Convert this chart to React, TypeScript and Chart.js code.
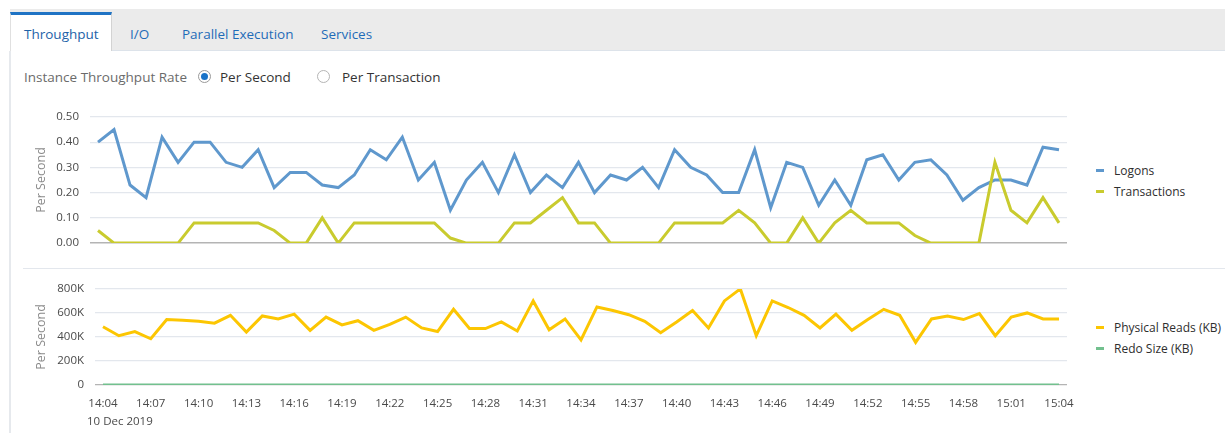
import React, { useEffect, useRef } from 'react';
import { Chart, registerables } from 'chart.js';

Chart.register(...registerables);

const FONT = '"Open Sans", "Noto Sans", sans-serif';

const times = [
  '14:04', '14:05', '14:06', '14:07', '14:08', '14:09', '14:10', '14:11', '14:12', '14:13',
  '14:14', '14:15', '14:16', '14:17', '14:18', '14:19', '14:20', '14:21', '14:22', '14:23',
  '14:24', '14:25', '14:26', '14:27', '14:28', '14:29', '14:30', '14:31', '14:32', '14:33',
  '14:34', '14:35', '14:36', '14:37', '14:38', '14:39', '14:40', '14:41', '14:42', '14:43',
  '14:44', '14:45', '14:46', '14:47', '14:48', '14:49', '14:50', '14:51', '14:52', '14:53',
  '14:54', '14:55', '14:56', '14:57', '14:58', '14:59', '15:00', '15:01', '15:02', '15:03',
  '15:04',
];

const logons = [
  0.40, 0.45, 0.23, 0.18, 0.42, 0.32, 0.40, 0.40, 0.32, 0.30,
  0.37, 0.22, 0.28, 0.28, 0.23, 0.22, 0.27, 0.37, 0.33, 0.42,
  0.25, 0.32, 0.13, 0.25, 0.32, 0.20, 0.35, 0.20, 0.27, 0.22,
  0.32, 0.20, 0.27, 0.25, 0.30, 0.22, 0.37, 0.30, 0.27, 0.20,
  0.20, 0.37, 0.14, 0.32, 0.30, 0.15, 0.25, 0.15, 0.33, 0.35,
  0.25, 0.32, 0.33, 0.27, 0.17, 0.22, 0.25, 0.25, 0.23, 0.38,
  0.37,
];

const transactions = [
  0.05, 0, 0, 0, 0, 0, 0.08, 0.08, 0.08, 0.08,
  0.08, 0.05, 0, 0, 0.10, 0, 0.08, 0.08, 0.08, 0.08,
  0.08, 0.08, 0.02, 0, 0, 0, 0.08, 0.08, 0.13, 0.18,
  0.08, 0.08, 0, 0, 0, 0, 0.08, 0.08, 0.08, 0.08,
  0.13, 0.08, 0, 0, 0.10, 0, 0.08, 0.13, 0.08, 0.08,
  0.08, 0.03, 0, 0, 0, 0, 0.32, 0.13, 0.08, 0.18,
  0.08,
];

const physicalReadsKB = [
  485000, 410000, 445000, 385000, 545000, 540000, 530000, 515000, 580000, 440000,
  575000, 550000, 590000, 455000, 565000, 500000, 535000, 455000, 505000, 565000,
  475000, 445000, 630000, 470000, 470000, 525000, 450000, 700000, 460000, 550000,
  375000, 650000, 620000, 585000, 530000, 435000, 525000, 620000, 475000, 700000,
  800000, 410000, 700000, 645000, 580000, 475000, 590000, 455000, 545000, 630000,
  580000, 355000, 550000, 575000, 545000, 595000, 410000, 565000, 600000, 550000,
  550000,
];

const redoSizeKB = [
  0, 0, 0, 0, 0, 0, 0, 0, 0, 0,
  0, 0, 0, 0, 0, 0, 0, 0, 0, 0,
  0, 0, 0, 0, 0, 0, 0, 0, 0, 0,
  0, 0, 0, 0, 0, 0, 0, 0, 0, 0,
  0, 0, 0, 0, 0, 0, 0, 0, 0, 0,
  0, 0, 0, 0, 0, 0, 0, 0, 0, 0,
  0,
];

const tabs = ['Throughput', 'I/O', 'Parallel Execution', 'Services'];
const topLegend = [
  { label: 'Logons', color: '#5f98cd' },
  { label: 'Transactions', color: '#c9cb2e' },
];
const bottomLegend = [
  { label: 'Physical Reads (KB)', color: '#fcc602' },
  { label: 'Redo Size (KB)', color: '#72c08e' },
];
const dateLabel = '10 Dec 2019';
const yTitle = 'Per Second';

const GRID_MAJOR = '#e3e7ed';
const GRID_MINOR = '#efefef';
const GRID_ZERO = '#b4b4b4';
const TICK_COLOR = '#4a4a4a';
const TITLE_COLOR = '#8a8a8a';

function TopChart() {
  const ref = useRef<HTMLCanvasElement>(null);
  useEffect(() => {
    const chart = new Chart(ref.current!, {
      type: 'line',
      data: {
        labels: times,
        datasets: [
          {
            label: topLegend[0].label,
            data: logons,
            borderColor: topLegend[0].color,
            backgroundColor: topLegend[0].color,
            borderWidth: 3,
            pointRadius: 0,
            tension: 0,
            order: 1,
          },
          {
            label: topLegend[1].label,
            data: transactions,
            borderColor: topLegend[1].color,
            backgroundColor: topLegend[1].color,
            borderWidth: 3,
            pointRadius: 0,
            tension: 0,
            order: 0,
          },
        ],
      },
      options: {
        responsive: false,
        animation: false,
        layout: { padding: { left: 30, right: 23, top: 10, bottom: 8 } },
        plugins: { legend: { display: false }, tooltip: { enabled: false } },
        scales: {
          x: { display: false, offset: true },
          y: {
            min: 0,
            max: 0.5,
            border: { display: false },
            afterFit: (s: any) => { s.width = 60; },
            grid: {
              drawTicks: false,
              color: (c: any) => {
                const v = Math.round((c.tick?.value ?? 0) * 100);
                if (v === 0) return GRID_ZERO;
                return v % 10 === 0 ? GRID_MAJOR : GRID_MINOR;
              },
              lineWidth: (c: any) => (Math.round((c.tick?.value ?? 0) * 100) === 0 ? 1.5 : 1.2),
            },
            ticks: {
              stepSize: 0.05,
              padding: 11,
              color: TICK_COLOR,
              font: { family: FONT, size: 11.5 },
              callback: (v: any) => {
                const n = Math.round(Number(v) * 100);
                return n % 10 === 0 ? (n / 100).toFixed(2) : '';
              },
            },
            title: {
              display: true,
              text: yTitle,
              color: TITLE_COLOR,
              font: { family: FONT, size: 12.5 },
              padding: { top: 4, bottom: 0 },
            },
          },
        },
      },
    });
    return () => chart.destroy();
  }, []);
  return <canvas ref={ref} width={1090} height={162} style={{ position: 'absolute', left: 0, top: 99 }} />;
}

function BottomChart() {
  const ref = useRef<HTMLCanvasElement>(null);
  useEffect(() => {
    const chart = new Chart(ref.current!, {
      type: 'line',
      data: {
        labels: times,
        datasets: [
          {
            label: bottomLegend[0].label,
            data: physicalReadsKB,
            borderColor: bottomLegend[0].color,
            backgroundColor: bottomLegend[0].color,
            borderWidth: 3,
            pointRadius: 0,
            tension: 0,
          },
          {
            label: bottomLegend[1].label,
            data: redoSizeKB,
            borderColor: bottomLegend[1].color,
            backgroundColor: bottomLegend[1].color,
            borderWidth: 3,
            pointRadius: 0,
            tension: 0,
          },
        ],
      },
      options: {
        responsive: false,
        animation: false,
        layout: { padding: { left: 30, right: 23, top: 10, bottom: 0 } },
        plugins: { legend: { display: false }, tooltip: { enabled: false } },
        scales: {
          x: {
            offset: true,
            border: { display: false },
            grid: { display: false, drawTicks: false },
            afterFit: (s: any) => { s.height = 30; },
            ticks: {
              autoSkip: false,
              maxRotation: 0,
              padding: 12,
              color: TICK_COLOR,
              font: { family: FONT, size: 11.5 },
              callback: (_v: any, i: number) => (i % 3 === 0 ? times[i] : ''),
            },
          },
          y: {
            min: 0,
            max: 800000,
            border: { display: false },
            afterFit: (s: any) => { s.width = 65; },
            grid: {
              drawTicks: false,
              color: (c: any) => {
                const v = c.tick?.value ?? 0;
                if (v === 0) return GRID_ZERO;
                return v % 200000 === 0 ? GRID_MAJOR : GRID_MINOR;
              },
              lineWidth: 1.2,
            },
            ticks: {
              stepSize: 100000,
              padding: 11,
              color: TICK_COLOR,
              font: { family: FONT, size: 11.5 },
              callback: (v: any) => {
                const n = Number(v);
                if (n % 200000 !== 0) return '';
                return n === 0 ? '0' : n / 1000 + 'K';
              },
            },
            title: {
              display: true,
              text: yTitle,
              color: TITLE_COLOR,
              font: { family: FONT, size: 12.5 },
              padding: { top: 4, bottom: 0 },
            },
          },
        },
      },
    });
    return () => chart.destroy();
  }, []);
  return <canvas ref={ref} width={1090} height={144} style={{ position: 'absolute', left: 0, top: 271 }} />;
}

function Legend({ items, top }: { items: { label: string; color: string }[]; top: number }) {
  return (
    <div style={{ position: 'absolute', left: 1096, top }}>
      {items.map((it) => (
        <div key={it.label} style={{ display: 'flex', alignItems: 'center', height: 21 }}>
          <span style={{ width: 8, height: 3, background: it.color, marginRight: 10 }} />
          <span style={{ fontSize: 12, color: '#2e2e2e', whiteSpace: 'nowrap' }}>{it.label}</span>
        </div>
      ))}
    </div>
  );
}

function Radio({ checked, left }: { checked: boolean; left: number }) {
  return (
    <span
      style={{
        position: 'absolute',
        left,
        top: 70,
        width: 13,
        height: 13,
        borderRadius: '50%',
        border: '1px solid ' + (checked ? '#9a9a9a' : '#b5b5b5'),
        background: '#fff',
        boxSizing: 'border-box',
      }}
    >
      {checked && (
        <span
          style={{
            position: 'absolute',
            left: 2,
            top: 2,
            width: 7,
            height: 7,
            borderRadius: '50%',
            background: '#1a73c8',
          }}
        />
      )}
    </span>
  );
}

export default function App() {
  useEffect(() => {
    document.body.style.margin = '0';
  }, []);
  const tabLefts = [24, 130, 182, 321];
  return (
    <div
      style={{
        position: 'relative',
        width: 1225,
        height: 433,
        background: '#fff',
        fontFamily: FONT,
        overflow: 'hidden',
      }}
    >
      {/* tab bar */}
      <div
        style={{
          position: 'absolute',
          left: 10,
          top: 9,
          width: 1215,
          height: 41,
          background: '#ebebeb',
          borderBottom: '1px solid #dde3ea',
        }}
      />
      <div
        style={{
          position: 'absolute',
          left: 10,
          top: 12,
          width: 102,
          height: 39,
          background: '#fff',
          borderTop: '3px solid #1f73c4',
          borderRight: '1px solid #d3d3d3',
          borderLeft: '1px solid #e0e0e0',
          boxSizing: 'border-box',
        }}
      />
      {tabs.map((t, i) => (
        <div
          key={t}
          style={{
            position: 'absolute',
            left: tabLefts[i],
            top: 25,
            fontSize: 13.5,
            lineHeight: '18px',
            color: i === 0 ? '#1d62a8' : '#1f6cb8',
            whiteSpace: 'nowrap',
          }}
        >
          {t}
        </div>
      ))}
      {/* left content border */}
      <div style={{ position: 'absolute', left: 9, top: 51, width: 2, height: 382, background: '#e6e9ed' }} />
      {/* rate selector */}
      <div
        style={{
          position: 'absolute',
          left: 24,
          top: 68,
          fontSize: 13.5,
          lineHeight: '18px',
          color: '#6b6b6b',
          whiteSpace: 'nowrap',
        }}
      >
        Instance Throughput Rate
      </div>
      <Radio checked={true} left={198} />
      <div style={{ position: 'absolute', left: 220, top: 68, fontSize: 13.5, lineHeight: '18px', color: '#333', whiteSpace: 'nowrap' }}>
        Per Second
      </div>
      <Radio checked={false} left={317} />
      <div style={{ position: 'absolute', left: 342, top: 68, fontSize: 13.5, lineHeight: '18px', color: '#333', whiteSpace: 'nowrap' }}>
        Per Transaction
      </div>

      <TopChart />
      <Legend items={topLegend} top={160} />

      {/* separator */}
      <div style={{ position: 'absolute', left: 23, top: 268, width: 1202, height: 1, background: '#e3e7ed' }} />

      <BottomChart />
      <Legend items={bottomLegend} top={317} />
      <div
        style={{
          position: 'absolute',
          left: 87,
          top: 413,
          fontSize: 11.5,
          lineHeight: '16px',
          color: TICK_COLOR,
          whiteSpace: 'nowrap',
        }}
      >
        {dateLabel}
      </div>
    </div>
  );
}
